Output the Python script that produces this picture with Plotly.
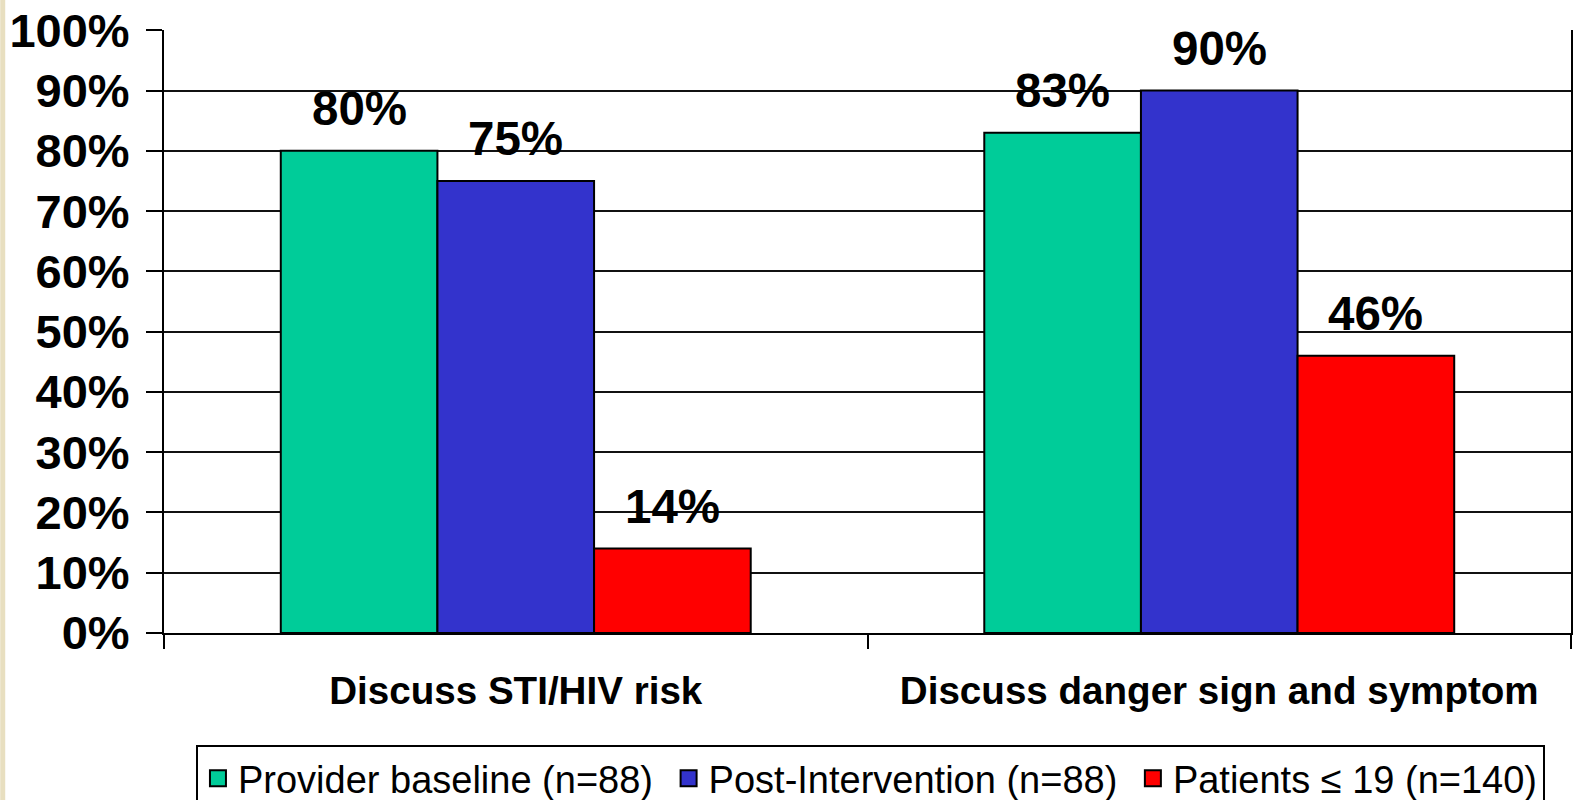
import plotly.graph_objects as go

categories = ["Discuss STI/HIV risk", "Discuss danger sign and symptom"]
series_names = ["Provider baseline (n=88)", "Post-Intervention (n=88)", "Patients \u2264 19 (n=140)"]
provider_baseline = [0.80, 0.83]
post_intervention = [0.75, 0.90]
patients_19 = [0.14, 0.46]
colors = ["#00CC99", "#3333CC", "#FF0000"]
y_ticks = [i / 10 for i in range(11)]

series_values = [provider_baseline, post_intervention, patients_19]

W, H = 1575, 800
ML, MR, MT, MB = 164, 2, 30, 167
plot_w = W - ML - MR
plot_h = H - MT - MB
bargap = 0.332
n_series = len(series_values)
bar_w = (1 - bargap) / n_series

FONT = "Liberation Sans, Arial, sans-serif"

fig = go.Figure()
for name, vals, col in zip(series_names, series_values, colors):
    fig.add_trace(go.Bar(
        x=categories, y=vals, name=name, showlegend=False,
        marker=dict(color=col, line=dict(color="black", width=2)),
        hoverinfo="y",
    ))
# legend entries
for i, (name, col) in enumerate(zip(series_names, colors)):
    label = name + ("\u00a0" if i < len(series_names) - 1 else "")
    fig.add_trace(go.Scatter(
        x=[None], y=[None], mode="markers", name=label,
        marker=dict(symbol="square", size=16, color=col, line=dict(color="black", width=2)),
    ))

annotations = []
for si, vals in enumerate(series_values):
    for ci, v in enumerate(vals):
        annotations.append(dict(
            x=ci + (si - (n_series - 1) / 2) * bar_w, y=v, xref="x", yref="y",
            text=f"{round(v * 100)}%", showarrow=False, yanchor="bottom",
            yshift=14, font=dict(family=FONT, size=47.5, color="black", weight="bold"),
        ))

fig.update_layout(
    width=W, height=H,
    margin=dict(l=ML, r=MR, t=MT, b=MB, pad=0),
    paper_bgcolor="white", plot_bgcolor="white",
    barmode="group", bargap=bargap, bargroupgap=0,
    font=dict(family=FONT, color="black"),
    annotations=annotations,
    showlegend=True,
    legend=dict(
        orientation="h", xref="paper", x=(196 - ML) / plot_w, xanchor="left",
        yref="container", y=(H - 745) / H, yanchor="top",
        bordercolor="black", borderwidth=2, bgcolor="white",
        font=dict(family=FONT, size=38, color="black"),
        itemsizing="trace", itemwidth=30,
    ),
    shapes=[dict(
        type="rect", xref="paper", yref="paper",
        x0=-ML / plot_w, x1=(5 - ML) / plot_w,
        y0=-MB / plot_h, y1=(plot_h + MT) / plot_h,
        fillcolor="#E8DFC0", line=dict(width=0), layer="below",
    )],
)

fig.update_xaxes(
    type="category", tickson="boundaries", ticks="outside", ticklen=14,
    tickwidth=2, tickcolor="black", showline=True, linecolor="black", linewidth=2,
    showgrid=False, ticklabelstandoff=23,
    tickfont=dict(family=FONT, size=38.6, color="black", weight="bold"),
)
fig.update_yaxes(
    range=[0, 1.0005], tickvals=y_ticks, tickformat=".0%",
    ticks="outside", ticklen=16, tickwidth=2, tickcolor="black",
    showline=True, linecolor="black", linewidth=2, mirror=True,
    showgrid=True, gridcolor="#111111", gridwidth=2, zeroline=False,
    ticklabelstandoff=7,
    tickfont=dict(family=FONT, size=47, color="black", weight="bold"),
)

fig.write_html(
    "out.html",
    config={"displayModeBar": False},
    post_script="document.body.style.margin='0';document.documentElement.style.overflow='hidden';document.body.style.overflow='hidden';",
)
